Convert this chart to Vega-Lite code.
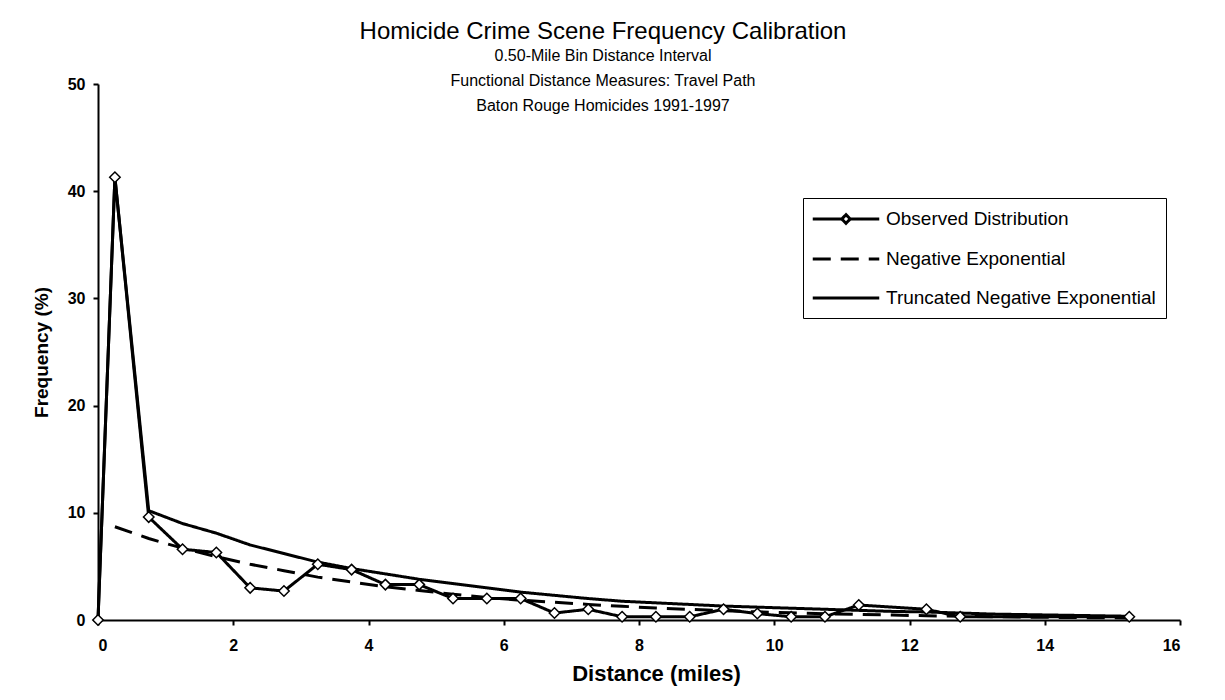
{
  "$schema": "https://vega.github.io/schema/vega-lite/v6.json",
  "width": 1082,
  "height": 536,
  "autosize": {"type": "none"},
  "padding": {"left": 98, "top": 84, "right": 45, "bottom": 80},
  "background": "white",
  "title": {
    "text": "Homicide Crime Scene Frequency Calibration",
    "subtitle": ["0.50-Mile Bin Distance Interval", "Functional Distance Measures: Travel Path", "Baton Rouge Homicides 1991-1997"],
    "anchor": "middle",
    "dx": -36,
    "offset": -38,
    "font": "Liberation Sans",
    "fontSize": 24,
    "fontWeight": "normal",
    "color": "black",
    "subtitleFont": "Liberation Sans",
    "subtitleFontSize": 16,
    "subtitleColor": "black",
    "subtitleLineHeight": 25,
    "subtitlePadding": 4
  },
  "data": {
    "values": [
      {"distance": 0, "series": "Observed Distribution", "frequency": 0},
      {"distance": 0.25, "series": "Observed Distribution", "frequency": 41.3},
      {"distance": 0.75, "series": "Observed Distribution", "frequency": 9.6},
      {"distance": 1.25, "series": "Observed Distribution", "frequency": 6.6},
      {"distance": 1.75, "series": "Observed Distribution", "frequency": 6.3},
      {"distance": 2.25, "series": "Observed Distribution", "frequency": 3.0},
      {"distance": 2.75, "series": "Observed Distribution", "frequency": 2.7},
      {"distance": 3.25, "series": "Observed Distribution", "frequency": 5.2},
      {"distance": 3.75, "series": "Observed Distribution", "frequency": 4.7},
      {"distance": 4.25, "series": "Observed Distribution", "frequency": 3.3},
      {"distance": 4.75, "series": "Observed Distribution", "frequency": 3.3},
      {"distance": 5.25, "series": "Observed Distribution", "frequency": 2.0},
      {"distance": 5.75, "series": "Observed Distribution", "frequency": 2.0},
      {"distance": 6.25, "series": "Observed Distribution", "frequency": 2.0},
      {"distance": 6.75, "series": "Observed Distribution", "frequency": 0.65},
      {"distance": 7.25, "series": "Observed Distribution", "frequency": 1.0},
      {"distance": 7.75, "series": "Observed Distribution", "frequency": 0.3},
      {"distance": 8.25, "series": "Observed Distribution", "frequency": 0.3},
      {"distance": 8.75, "series": "Observed Distribution", "frequency": 0.3},
      {"distance": 9.25, "series": "Observed Distribution", "frequency": 1.0},
      {"distance": 9.75, "series": "Observed Distribution", "frequency": 0.6},
      {"distance": 10.25, "series": "Observed Distribution", "frequency": 0.3},
      {"distance": 10.75, "series": "Observed Distribution", "frequency": 0.3},
      {"distance": 11.25, "series": "Observed Distribution", "frequency": 1.4},
      {"distance": 12.25, "series": "Observed Distribution", "frequency": 1.0},
      {"distance": 12.75, "series": "Observed Distribution", "frequency": 0.3},
      {"distance": 15.25, "series": "Observed Distribution", "frequency": 0.3},

      {"distance": 0.25, "series": "Negative Exponential", "frequency": 8.7},
      {"distance": 0.75, "series": "Negative Exponential", "frequency": 7.6},
      {"distance": 1.25, "series": "Negative Exponential", "frequency": 6.7},
      {"distance": 1.75, "series": "Negative Exponential", "frequency": 5.9},
      {"distance": 2.25, "series": "Negative Exponential", "frequency": 5.2},
      {"distance": 2.75, "series": "Negative Exponential", "frequency": 4.6},
      {"distance": 3.25, "series": "Negative Exponential", "frequency": 4.0},
      {"distance": 3.75, "series": "Negative Exponential", "frequency": 3.55},
      {"distance": 4.25, "series": "Negative Exponential", "frequency": 3.1},
      {"distance": 4.75, "series": "Negative Exponential", "frequency": 2.75},
      {"distance": 5.25, "series": "Negative Exponential", "frequency": 2.4},
      {"distance": 5.75, "series": "Negative Exponential", "frequency": 2.1},
      {"distance": 6.25, "series": "Negative Exponential", "frequency": 1.85},
      {"distance": 6.75, "series": "Negative Exponential", "frequency": 1.65},
      {"distance": 7.25, "series": "Negative Exponential", "frequency": 1.45},
      {"distance": 7.75, "series": "Negative Exponential", "frequency": 1.28},
      {"distance": 8.25, "series": "Negative Exponential", "frequency": 1.12},
      {"distance": 8.75, "series": "Negative Exponential", "frequency": 0.99},
      {"distance": 9.25, "series": "Negative Exponential", "frequency": 0.87},
      {"distance": 9.75, "series": "Negative Exponential", "frequency": 0.76},
      {"distance": 10.25, "series": "Negative Exponential", "frequency": 0.67},
      {"distance": 10.75, "series": "Negative Exponential", "frequency": 0.59},
      {"distance": 11.25, "series": "Negative Exponential", "frequency": 0.52},
      {"distance": 11.75, "series": "Negative Exponential", "frequency": 0.46},
      {"distance": 12.25, "series": "Negative Exponential", "frequency": 0.4},
      {"distance": 12.75, "series": "Negative Exponential", "frequency": 0.35},
      {"distance": 13.25, "series": "Negative Exponential", "frequency": 0.31},
      {"distance": 13.75, "series": "Negative Exponential", "frequency": 0.27},
      {"distance": 14.25, "series": "Negative Exponential", "frequency": 0.24},
      {"distance": 14.75, "series": "Negative Exponential", "frequency": 0.21},
      {"distance": 15.25, "series": "Negative Exponential", "frequency": 0.19},

      {"distance": 0, "series": "Truncated Negative Exponential", "frequency": 0},
      {"distance": 0.25, "series": "Truncated Negative Exponential", "frequency": 41.3},
      {"distance": 0.75, "series": "Truncated Negative Exponential", "frequency": 10.2},
      {"distance": 1.25, "series": "Truncated Negative Exponential", "frequency": 9.0},
      {"distance": 1.75, "series": "Truncated Negative Exponential", "frequency": 8.1},
      {"distance": 2.25, "series": "Truncated Negative Exponential", "frequency": 7.0},
      {"distance": 2.75, "series": "Truncated Negative Exponential", "frequency": 6.2},
      {"distance": 3.25, "series": "Truncated Negative Exponential", "frequency": 5.4},
      {"distance": 3.75, "series": "Truncated Negative Exponential", "frequency": 4.8},
      {"distance": 4.25, "series": "Truncated Negative Exponential", "frequency": 4.3},
      {"distance": 4.75, "series": "Truncated Negative Exponential", "frequency": 3.8},
      {"distance": 5.25, "series": "Truncated Negative Exponential", "frequency": 3.4},
      {"distance": 5.75, "series": "Truncated Negative Exponential", "frequency": 3.0},
      {"distance": 6.25, "series": "Truncated Negative Exponential", "frequency": 2.6},
      {"distance": 6.75, "series": "Truncated Negative Exponential", "frequency": 2.3},
      {"distance": 7.25, "series": "Truncated Negative Exponential", "frequency": 2.0},
      {"distance": 7.75, "series": "Truncated Negative Exponential", "frequency": 1.75},
      {"distance": 8.25, "series": "Truncated Negative Exponential", "frequency": 1.6},
      {"distance": 8.75, "series": "Truncated Negative Exponential", "frequency": 1.45},
      {"distance": 9.25, "series": "Truncated Negative Exponential", "frequency": 1.3},
      {"distance": 9.75, "series": "Truncated Negative Exponential", "frequency": 1.2},
      {"distance": 10.25, "series": "Truncated Negative Exponential", "frequency": 1.1},
      {"distance": 10.75, "series": "Truncated Negative Exponential", "frequency": 1.0},
      {"distance": 11.25, "series": "Truncated Negative Exponential", "frequency": 0.9},
      {"distance": 11.75, "series": "Truncated Negative Exponential", "frequency": 0.8},
      {"distance": 12.25, "series": "Truncated Negative Exponential", "frequency": 0.75},
      {"distance": 12.75, "series": "Truncated Negative Exponential", "frequency": 0.65},
      {"distance": 13.25, "series": "Truncated Negative Exponential", "frequency": 0.55},
      {"distance": 13.75, "series": "Truncated Negative Exponential", "frequency": 0.5},
      {"distance": 14.25, "series": "Truncated Negative Exponential", "frequency": 0.45},
      {"distance": 14.75, "series": "Truncated Negative Exponential", "frequency": 0.4},
      {"distance": 15.25, "series": "Truncated Negative Exponential", "frequency": 0.35}
    ]
  },
  "encoding": {
    "x": {
      "field": "distance",
      "type": "quantitative",
      "title": "Distance (miles)",
      "scale": {"domain": [0, 16], "nice": false, "zero": true},
      "axis": {"values": [0, 2, 4, 6, 8, 10, 12, 14, 16], "titleFontSize": 22, "titlePadding": 10, "labelPadding": 12, "titleX": 558}
    },
    "y": {
      "field": "frequency",
      "type": "quantitative",
      "title": "Frequency (%)",
      "scale": {"domain": [0, 50], "nice": false},
      "axis": {"values": [0, 10, 20, 30, 40, 50], "titleFontSize": 19, "titlePadding": 16, "labelPadding": 8}
    }
  },
  "layer": [
    {
      "mark": {"type": "line", "color": "black", "strokeWidth": 3, "clip": false},
      "encoding": {
        "detail": {"field": "series"},
        "strokeDash": {
          "field": "series",
          "type": "nominal",
          "sort": ["Observed Distribution", "Negative Exponential", "Truncated Negative Exponential"],
          "scale": {
            "domain": ["Observed Distribution", "Negative Exponential", "Truncated Negative Exponential"],
            "range": [[1, 0], [18, 10], [1, 0]]
          },
          "legend": {
            "title": null,
            "orient": "none",
            "legendX": 705,
            "legendY": 114,
            "direction": "vertical",
            "padding": 10,
            "strokeColor": "black",
            "fillColor": "white",
            "cornerRadius": 0,
            "symbolType": "M-3.5,0L3.5,0",
            "symbolSize": 361,
            "symbolStrokeWidth": 3,
            "symbolStrokeColor": "black",
            "symbolOffset": 22,
            "labelOffset": 29,
            "labelFont": "Liberation Sans",
            "labelFontSize": 19,
            "labelColor": "black",
            "labelLimit": 400,
            "rowPadding": 18,
            "encode": {
              "symbols": {
                "update": {
                  "shape": {"signal": "datum.value === 'Observed Distribution' ? 'M-3.5,0L-0.45,0M0.45,0L3.5,0M-0.45,0L0,-0.45L0.45,0L0,0.45Z' : 'M-3.5,0L3.5,0'"},
                  "fill": {"value": "white"},
                  "stroke": {"value": "black"}
                }
              }
            }
          }
        }
      }
    },
    {
      "transform": [{"filter": "datum.series === 'Observed Distribution'"}],
      "mark": {"type": "point", "shape": "diamond", "filled": true, "fill": "white", "stroke": "black", "strokeWidth": 1.5, "size": 110, "opacity": 1, "clip": false}
    }
  ],
  "config": {
    "view": {"stroke": null},
    "axis": {
      "grid": false,
      "domainColor": "black",
      "domainWidth": 2,
      "tickColor": "black",
      "tickWidth": 2,
      "tickSize": 5,
      "labelFont": "Liberation Sans",
      "labelFontWeight": "bold",
      "labelFontSize": 16,
      "labelColor": "black",
      "titleFont": "Liberation Sans",
      "titleFontWeight": "bold",
      "titleColor": "black"
    }
  }
}
